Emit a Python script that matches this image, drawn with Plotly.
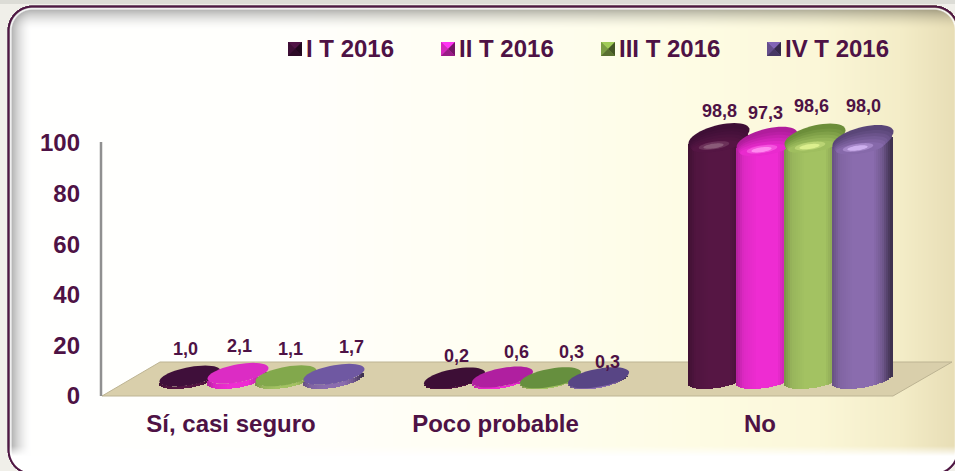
import base64, struct, zlib
import numpy as np
import plotly.graph_objects as go

# ---------- data ----------
categories = ["Sí, casi seguro", "Poco probable", "No"]
series_names = ["I T 2016", "II T 2016", "III T 2016", "IV T 2016"]
values_t1 = [1.0, 0.2, 98.8]
values_t2 = [2.1, 0.6, 97.3]
values_t3 = [1.1, 0.3, 98.6]
values_t4 = [1.7, 0.3, 98.0]
y_ticks = [0, 20, 40, 60, 80, 100]

# ---------- styles ----------
series_values = [values_t1, values_t2, values_t3, values_t4]
body_colors = ["#561644", "#ee2cd2", "#a3c262", "#8a6cae"]
cap_colors = ["#3e0f36", "#b01d9c", "#6c8e3a", "#5a4678"]
disc_colors = [
    ["#3f0f3a", "#dc2cc4", "#82a84c", "#6f58a2"],
    ["#3d0e36", "#b01fa0", "#668f3e", "#584585"],
]
hi_colors = ["#8a5a78", "#ff8af0", "#dcf08e", "#cdb0ee"]
swatch_colors = ["#3e0f36", "#d428bc", "#7b9c44", "#644e8c"]
swatch_px = [288, 441, 601, 767]
legend_text_px = [306, 459, 619, 785]
label_dx = [[-5, 1, 4, 17], [1.5, 13.5, 20.5, 8.5], [0, -2, -4, 0]]
label_dy = [[27, 27, 27, 27], [22, 25, 26, 16], [26, 27, 31, 32.5]]
TXT = "#4e1245"
FONT = "Liberation Sans"

W, H = 955, 471
L, R, T, B = 101, 955, 96, 396      # plot box in px
PX_X = 264.5                         # px per category
X0 = 231                             # px of first category
PX_Y1 = 2.53
PX_Y2 = 2.449
BASE_PX = 378.5
RX, RY, PHI = 30.5, 10.5, np.radians(60)
CAP_SY = 13.5 / 10.5
GROUP_SHIFT, SERIES_STEP = 31, 48
STRIP = 2


def hex2rgb(h):
    return np.array([int(h[i:i + 2], 16) for i in (1, 3, 5)], float)


def rgb2hex(c):
    c = np.clip(np.round(c), 0, 255).astype(int)
    return "#%02x%02x%02x" % tuple(c)


def px(x):
    return (x - L) / (R - L)


def py(y):
    return (B - y) / (B - T)


def rounded_sdf(xx, yy, x0, y0, x1, y1, rad):
    qx = np.abs(xx - (x0 + x1) / 2) - ((x1 - x0) / 2 - rad)
    qy = np.abs(yy - (y0 + y1) / 2) - ((y1 - y0) / 2 - rad)
    return np.hypot(np.maximum(qx, 0), np.maximum(qy, 0)) + np.minimum(np.maximum(qx, qy), 0) - rad


# ---------- background picture (frame, bevel, wall gradient) ----------
def make_background():
    yy, xx = np.mgrid[0:H, 0:W].astype(float) + 0.5
    stops_x = [0, 300, 560, 700, 820, 900, 955]
    rr = np.interp(xx, stops_x, [255, 255, 255, 254, 251, 244, 232])
    gg = np.interp(xx, stops_x, [255, 255, 254, 252, 247, 237, 222])
    bb = np.interp(xx, stops_x, [255, 252, 238, 228, 216, 200, 182])
    img = np.dstack([rr, gg, bb])
    x0, y0, x1, y1, rad = 8.5, 6.5, 958.0, 474.0, 24.0
    dist = rounded_sdf(xx, yy, x0, y0, x1, y1, rad)
    inside = -dist
    # inner shadow along the top and left edges only
    tl = -rounded_sdf(xx, yy, x0, y0, x1 + 300, y1 + 300, rad)
    ds = np.clip(1 - (tl - 3) / 20, 0, 1) ** 1.7
    img = img * (1 - (0.3 * ds)[..., None])
    # bottom white glow
    g = np.clip((yy - 446) / 10, 0, 1)[..., None]
    img = img * (1 - g) + 255 * g
    # thin light bevel next to the line
    w = np.clip(1 - np.abs(inside - 2.3) / 1.5, 0, 1)[..., None]
    img = img * (1 - w) + 255 * w
    # dark frame line
    a = np.clip(1.6 - np.abs(inside), 0, 1)[..., None]
    img = img * (1 - a) + hex2rgb("#4f1743") * a
    # outside
    o = (np.clip(dist + 0.5, 0, 1) * (np.abs(inside) >= 1.2))[..., None]
    out = np.empty_like(img)
    out[...] = hex2rgb("#f0efe9")
    out[:4, :] = hex2rgb("#dcdcd6")
    img = img * (1 - o) + out * o
    data = np.clip(img, 0, 255).astype(np.uint8)
    raw = b"".join(b"\x00" + data[i].tobytes() for i in range(H))

    def chunk(t, d):
        return struct.pack(">I", len(d)) + t + d + struct.pack(">I", zlib.crc32(t + d) & 0xffffffff)

    png = (b"\x89PNG\r\n\x1a\n" + chunk(b"IHDR", struct.pack(">IIBBBBB", W, H, 8, 2, 0, 0, 0))
           + chunk(b"IDAT", zlib.compress(raw, 6)) + chunk(b"IEND", b""))
    return "data:image/png;base64," + base64.b64encode(png).decode()


# ---------- cylinders ----------
def cx_units(cat, s):
    return cat + (GROUP_SHIFT + (s - 1.5) * SERIES_STEP) / PX_X


def lower_arc(dx):
    t = 2 * np.pi - np.arccos(np.clip(dx / RX, -1, 1))
    return RY * np.cos(t - PHI) / PX_Y2


def ellipse_path(cx, cy, sx=1.0, sy=1.0, dxp=0.0, dyp=0.0):
    pts = []
    for t in np.linspace(0, 2 * np.pi, 48, endpoint=False):
        xp = dxp + sx * RX * np.cos(t)
        yp = dyp + sy * RY * np.cos(t - PHI)
        pts.append((cx + xp / PX_X, cy + yp / PX_Y2))
    return "M" + "L".join(f"{a:.5f},{b:.4f}" for a, b in pts) + "Z"


shade_u = [-1, -0.75, -0.3, 0.35, 0.65, 0.9, 1]
shade_f = [0.74, 0.93, 1.0, 1.0, 0.82, 0.5, 0.38]

fig = go.Figure()
cats_idx = list(range(len(categories)))
for s, vals in enumerate(series_values):
    base_col = hex2rgb(body_colors[s])
    for dx in np.arange(-RX + STRIP / 2, RX, STRIP):
        col = rgb2hex(base_col * np.interp(dx / RX, shade_u, shade_f))
        off = float(lower_arc(dx))
        fig.add_trace(go.Bar(
            x=[cx_units(c, s) + dx / PX_X for c in cats_idx],
            y=vals,
            base=[off] * len(vals),
            width=(STRIP + 0.7) / PX_X,
            marker=dict(color=col, line=dict(width=0)),
            xaxis="x", yaxis="y2", showlegend=False, hoverinfo="skip",
            name=series_names[s],
        ))

shapes = []
# floor
shapes.append(dict(type="path", xref="paper", yref="paper", layer="below",
                   path=f"M{px(102):.5f},{py(396):.5f}L{px(160):.5f},{py(362):.5f}"
                        f"L{px(952):.5f},{py(362):.5f}L{px(893):.5f},{py(396):.5f}Z",
                   fillcolor="#d9cfab", line=dict(color="#bdb493", width=1)))
# axis line
shapes.append(dict(type="line", xref="paper", yref="y", layer="below", x0=0, x1=0, y0=-0.4, y1=100.4,
                   line=dict(color="#909090", width=2.5)))

for c in cats_idx:
    for s, vals in enumerate(series_values):
        cx, cy = cx_units(c, s), vals[c]
        if vals[c] < 10:
            shapes.append(dict(type="path", xref="x", yref="y2", path=ellipse_path(cx, cy),
                               fillcolor=disc_colors[c][s], line=dict(width=0)))
        else:
            dk, bd, hi = hex2rgb(cap_colors[s]), hex2rgb(body_colors[s]), hex2rgb(hi_colors[s])
            shapes.append(dict(type="path", xref="x", yref="y2", path=ellipse_path(cx, cy, 1, CAP_SY),
                               fillcolor=cap_colors[s], line=dict(width=0)))
            # body colour flows up over the front rim of the cap
            for k, f in enumerate([0.15, 0.35, 0.55, 0.75, 0.92]):
                shapes.append(dict(type="path", xref="x", yref="y2",
                                   path=ellipse_path(cx, cy, 0.97 - 0.05 * k, CAP_SY * (0.85 - 0.1 * k),
                                                     -0.5 - 0.7 * k, -3 - 1.7 * k),
                                   fillcolor=rgb2hex(dk * (1 - f) + bd * f), line=dict(width=0)))
            shapes.append(dict(type="path", xref="x", yref="y2",
                               path=ellipse_path(cx, cy, 0.5, 0.42, -5, -9),
                               fillcolor=rgb2hex(bd * 0.6 + hi * 0.4), line=dict(width=0)))
            shapes.append(dict(type="path", xref="x", yref="y2",
                               path=ellipse_path(cx, cy, 0.33, 0.26, -5.5, -9.5),
                               fillcolor=hi_colors[s], line=dict(width=0)))

annotations = []
# data labels
for c in cats_idx:
    for s, vals in enumerate(series_values):
        annotations.append(dict(
            x=cx_units(c, s), y=vals[c], xref="x", yref="y2",
            text=f"<b>{vals[c]:.1f}</b>".replace(".", ","),
            xshift=label_dx[c][s], yshift=label_dy[c][s], showarrow=False,
            font=dict(family=FONT, size=18, color=TXT), xanchor="center", yanchor="middle"))

# legend
for s, name in enumerate(series_names):
    x0, y0, sz = swatch_px[s], 42, 14
    base = hex2rgb(swatch_colors[s])
    mx, my = x0 + sz / 2, y0 + sz / 2
    shapes.append(dict(type="rect", xref="paper", yref="paper", x0=px(x0), x1=px(x0 + sz),
                       y0=py(y0), y1=py(y0 + sz), fillcolor=swatch_colors[s], line=dict(width=0)))
    tris = [((x0, y0), (x0 + sz, y0), 1.3), ((x0, y0), (x0, y0 + sz), 1.0),
            ((x0 + sz, y0), (x0 + sz, y0 + sz), 0.55), ((x0, y0 + sz), (x0 + sz, y0 + sz), 0.72)]
    for p, q, f in tris:
        shapes.append(dict(type="path", xref="paper", yref="paper",
                           path=f"M{px(p[0]):.5f},{py(p[1]):.5f}L{px(q[0]):.5f},{py(q[1]):.5f}"
                                f"L{px(mx):.5f},{py(my):.5f}Z",
                           fillcolor=rgb2hex(base * f), line=dict(width=0)))
    annotations.append(dict(x=px(legend_text_px[s]), y=py(49), xref="paper", yref="paper",
                            text=f"<b>{name}</b>", showarrow=False, xanchor="left", yanchor="middle",
                            xshift=-2, font=dict(family=FONT, size=24, color=TXT)))

fig.update_layout(
    width=W, height=H, autosize=False,
    margin=dict(l=L, r=W - R, t=T, b=H - B, pad=0, autoexpand=False),
    paper_bgcolor="#f0efe9", plot_bgcolor="rgba(0,0,0,0)",
    barmode="overlay", bargap=0, showlegend=False, hovermode=False,
    font=dict(family=FONT, color=TXT),
    xaxis=dict(range=[(L - X0) / PX_X, (R - X0) / PX_X], tickmode="array", tickvals=cats_idx,
               ticktext=[f"<b>{c}</b>" for c in categories], showgrid=False, zeroline=False,
               showline=False, ticks="", ticklabelstandoff=11,
               tickfont=dict(family=FONT, size=24, color=TXT), fixedrange=True),
    yaxis=dict(range=[0, (B - T) / PX_Y1], tickmode="array", tickvals=y_ticks,
               ticktext=[f"<b>{v}</b>" for v in y_ticks], showgrid=False, zeroline=False,
               showline=False, ticks="", ticklabelstandoff=20,
               tickfont=dict(family=FONT, size=24, color=TXT), fixedrange=True),
    yaxis2=dict(overlaying="y", side="left", visible=False, fixedrange=True,
                range=[-(B - BASE_PX) / PX_Y2, (BASE_PX - T) / PX_Y2]),
    shapes=shapes, annotations=annotations,
    images=[dict(source=make_background(), xref="paper", yref="paper", layer="below",
                 x=px(0), y=py(0), sizex=W / (R - L), sizey=H / (B - T),
                 xanchor="left", yanchor="top", sizing="stretch")],
)

fig.write_html("out.html", config=dict(displayModeBar=False),
               post_script="document.body.style.margin='0';document.body.style.overflow='hidden';")
